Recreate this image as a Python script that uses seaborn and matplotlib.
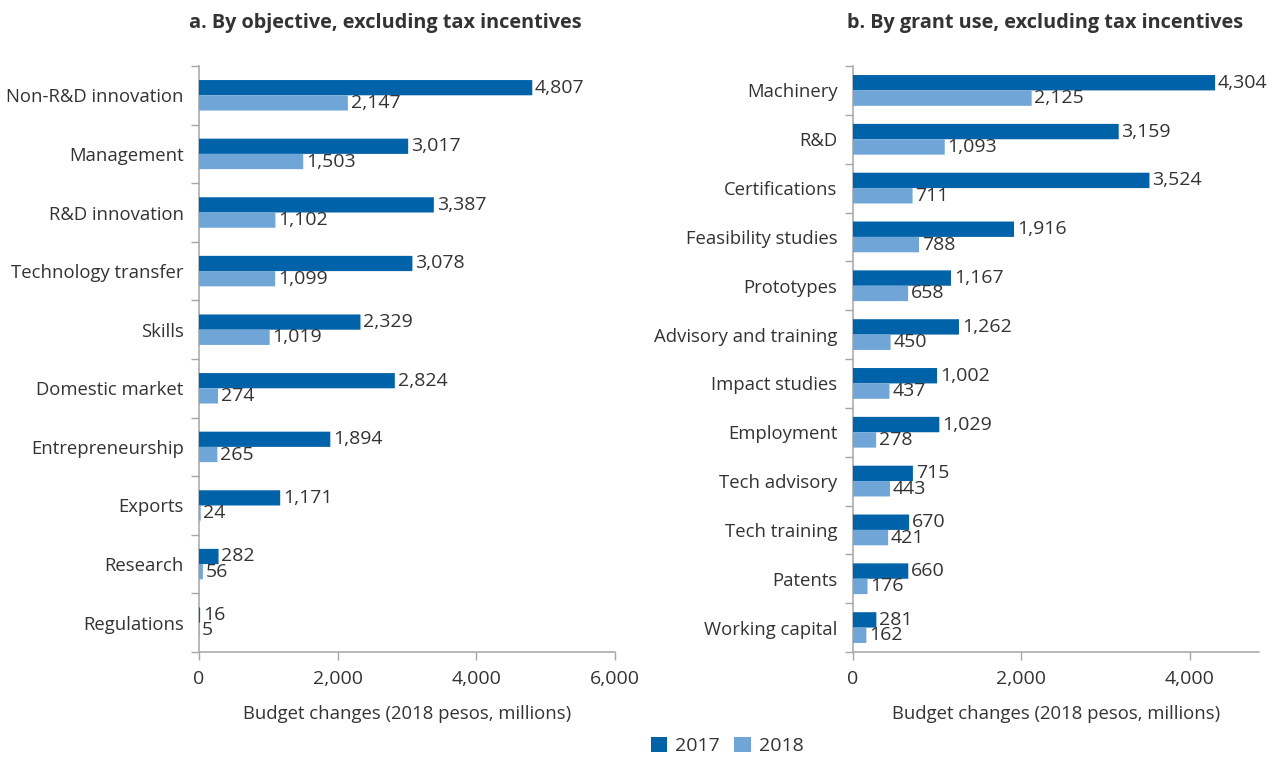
import matplotlib
matplotlib.use("Agg")
import matplotlib.pyplot as plt
from matplotlib.patches import Patch
from matplotlib.ticker import FuncFormatter, FixedLocator
import numpy as np
import pandas as pd
import seaborn as sns

# Panel a: budget by objective (2018 pesos, millions)
objectives = ["Non-R&D innovation", "Management", "R&D innovation", "Technology transfer",
              "Skills", "Domestic market", "Entrepreneurship", "Exports", "Research", "Regulations"]
objective_2017 = [4807, 3017, 3387, 3078, 2329, 2824, 1894, 1171, 282, 16]
objective_2018 = [2147, 1503, 1102, 1099, 1019, 274, 265, 24, 56, 5]

# Panel b: budget by grant use (2018 pesos, millions)
grant_uses = ["Machinery", "R&D", "Certifications", "Feasibility studies", "Prototypes",
              "Advisory and training", "Impact studies", "Employment", "Tech advisory",
              "Tech training", "Patents", "Working capital"]
grant_2017 = [4304, 3159, 3524, 1916, 1167, 1262, 1002, 1029, 715, 670, 660, 281]
grant_2018 = [2125, 1093, 711, 788, 658, 450, 437, 278, 443, 421, 176, 162]

years = ["2017", "2018"]
palette = {"2017": "#0062a9", "2018": "#6fa6d7"}

sns.set_theme(style="white")
plt.rcParams["font.family"] = ["Open Sans", "DejaVu Sans"]
TEXT = "#333333"
AXIS = "#a6a6a6"
LABEL_SIZE = 13.3
VALUE_SIZE = 14


def long_frame(cats, v17, v18):
    return pd.DataFrame({
        "category": cats * 2,
        "year": ["2017"] * len(cats) + ["2018"] * len(cats),
        "value": v17 + v18,
    })


def draw_panel(ax, cats, v17, v18, width, xmax, xticks, xlabel):
    df = long_frame(cats, v17, v18)
    sns.barplot(data=df, y="category", x="value", hue="year", hue_order=years,
                order=cats, palette=palette, orient="h", width=width,
                saturation=1, legend=False, ax=ax, errorbar=None, linewidth=0)
    # keep hairline-thin bars (tiny values) visible: no snapping, drawn above the spine
    for patch in ax.patches:
        patch.set_snap(False)
        patch.set_zorder(3)
    for container, vals in zip(ax.containers, [v17, v18]):
        ax.bar_label(container, labels=[f"{v:,}" for v in vals], padding=2,
                     fontsize=VALUE_SIZE, color=TEXT)
    ax.set_xlim(0, xmax)
    ax.set_ylim(len(cats) - 0.5, -0.5)
    ax.set_xticks(xticks)
    ax.xaxis.set_major_formatter(FuncFormatter(lambda x, p: f"{int(x):,}"))
    ax.set_ylabel("")
    ax.set_xlabel(xlabel, fontsize=LABEL_SIZE, color=TEXT, labelpad=12)
    ax.yaxis.set_minor_locator(FixedLocator(np.arange(-0.5, len(cats), 1.0)))
    ax.tick_params(axis="y", which="major", length=0, pad=11, labelsize=LABEL_SIZE,
                   labelcolor=TEXT)
    ax.tick_params(axis="y", which="minor", length=6, width=1, color=AXIS, left=True)
    ax.tick_params(axis="x", which="major", length=6, width=1, color=AXIS, bottom=True,
                   labelsize=VALUE_SIZE, labelcolor=TEXT, pad=7)
    for side in ["top", "right"]:
        ax.spines[side].set_visible(False)
    for side in ["left", "bottom"]:
        ax.spines[side].set_color(AXIS)
        ax.spines[side].set_linewidth(1.1)


fig = plt.figure(figsize=(12.75, 7.58), dpi=100)
ax1 = fig.add_axes([199 / 1275, 1 - 652 / 758, 416 / 1275, 586 / 758])
ax2 = fig.add_axes([852.7 / 1275, 1 - 652 / 758, 406.3 / 1275, 586 / 758])

draw_panel(ax1, objectives, objective_2017, objective_2018, 0.52, 6000,
           [0, 2000, 4000, 6000], "Budget changes (2018 pesos, millions)")
draw_panel(ax2, grant_uses, grant_2017, grant_2018, 0.63, 4825,
           [0, 2000, 4000], "Budget changes (2018 pesos, millions)")

fig.text(385 / 1275, 1 - 23 / 758, "a. By objective, excluding tax incentives",
         ha="center", va="center", fontsize=14.3, fontweight="bold", color=TEXT)
fig.text(1045 / 1275, 1 - 23 / 758, "b. By grant use, excluding tax incentives",
         ha="center", va="center", fontsize=14.3, fontweight="bold", color=TEXT)

handles = [Patch(facecolor=palette[y], edgecolor="none", label=y) for y in years]
fig.legend(handles=handles, loc="center", bbox_to_anchor=(727 / 1275, 1 - 746 / 758),
           ncol=2, frameon=False, fontsize=VALUE_SIZE, handlelength=0.85, handleheight=0.85,
           handletextpad=0.4, columnspacing=0.75, labelcolor=TEXT)

fig.savefig("out.png", dpi=100)
